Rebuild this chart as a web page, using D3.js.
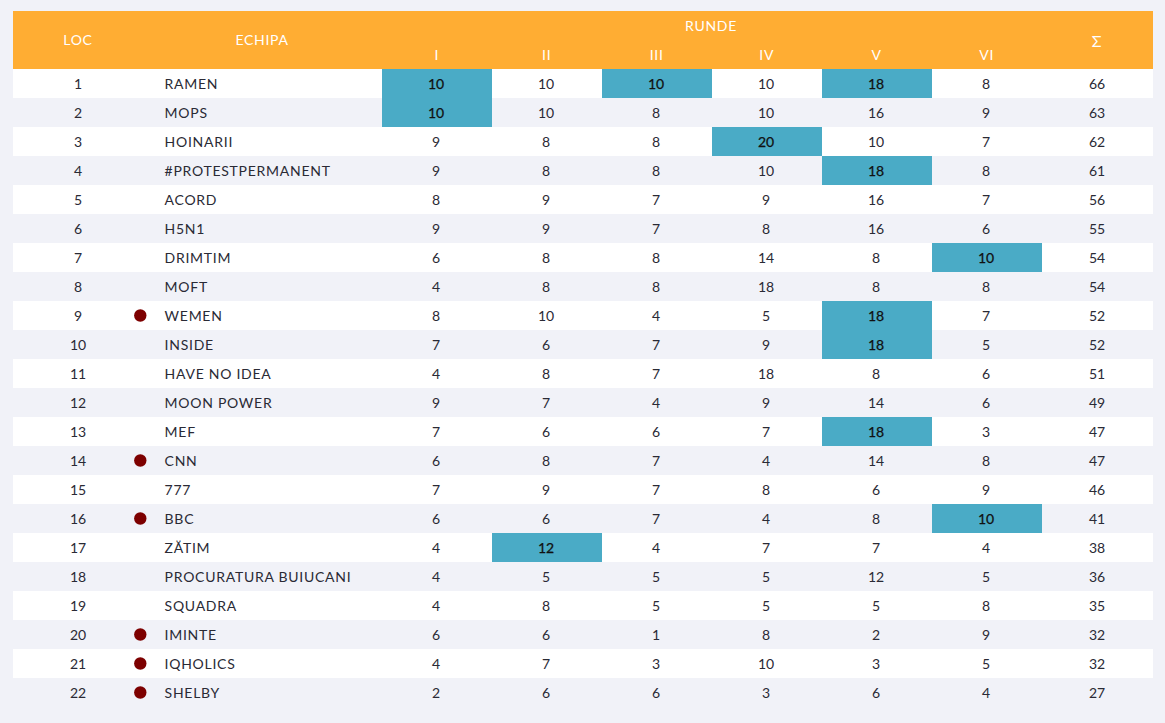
<!DOCTYPE html>
<html lang="ro">
  <head>
    <meta charset="UTF-8" />
    <title>Clasament</title>
    <script src="https://d3js.org/d3.v7.min.js" charset="utf-8"></script>
    <style>
      html, body { margin: 0; padding: 0; background: #f1f2f8; overflow: hidden; }
      svg { display: block; }
      text { font-family: Lato, sans-serif; font-size: 14px; fill: #2a2a35; }
      .head text { fill: #fff; letter-spacing: 0.7px; }
      .team { letter-spacing: 0.73px; }
      .top { fill: #111; stroke: #111; stroke-width: 0.25px; }
    </style>
  </head>
  <body>
    <div id="table"></div>
    <script>
      const teams = ["RAMEN", "MOPS", "HOINARII", "#PROTESTPERMANENT", "ACORD", "H5N1", "DRIMTIM", "MOFT", "WEMEN", "INSIDE", "HAVE NO IDEA", "MOON POWER", "MEF", "CNN", "777", "BBC", "ZĂTIM", "PROCURATURA BUIUCANI", "SQUADRA", "IMINTE", "IQHOLICS", "SHELBY"];
      const rounds = ["I", "II", "III", "IV", "V", "VI"];
      const roundI = [10, 10, 9, 9, 8, 9, 6, 4, 8, 7, 4, 9, 7, 6, 7, 6, 4, 4, 4, 6, 4, 2];
      const roundII = [10, 10, 8, 8, 9, 9, 8, 8, 10, 6, 8, 7, 6, 8, 9, 6, 12, 5, 8, 6, 7, 6];
      const roundIII = [10, 8, 8, 8, 7, 7, 8, 8, 4, 7, 7, 4, 6, 7, 7, 7, 4, 5, 5, 1, 3, 6];
      const roundIV = [10, 10, 20, 10, 9, 8, 14, 18, 5, 9, 18, 9, 7, 4, 8, 4, 7, 5, 5, 8, 10, 3];
      const roundV = [18, 16, 10, 18, 16, 16, 8, 8, 18, 18, 8, 14, 18, 14, 6, 8, 7, 12, 5, 2, 3, 6];
      const roundVI = [8, 9, 7, 8, 7, 6, 10, 8, 7, 5, 6, 6, 3, 8, 9, 10, 4, 5, 8, 9, 5, 4];
      const totals = [66, 63, 62, 61, 56, 55, 54, 54, 52, 52, 51, 49, 47, 47, 46, 41, 38, 36, 35, 32, 32, 27];
      const marked = ["WEMEN", "CNN", "BBC", "IMINTE", "IQHOLICS", "SHELBY"];

      const scores = [roundI, roundII, roundIII, roundIV, roundV, roundVI];

      const width = 1165;
      const height = 723;
      const left = 13;
      const right = 1153;
      const headTop = 11;
      const headBottom = 69;
      const rowH = 29;

      const y = d3
        .scaleBand()
        .domain(d3.range(teams.length))
        .range([headBottom, headBottom + rowH * teams.length]);

      const x = d3
        .scaleBand()
        .domain(rounds)
        .range([382, 1042]);

      const locX = 78;
      const nameX = 164.6;
      const dotX = 140.3;
      const sumX = 1097;

      const svg = d3
        .select("#table")
        .append("svg")
        .attr("width", width)
        .attr("height", height);

      // header
      const head = svg.append("g").attr("class", "head");
      head
        .append("rect")
        .attr("x", left)
        .attr("y", headTop)
        .attr("width", right - left)
        .attr("height", headBottom - headTop)
        .style("fill", "#ffad33");

      const headText = (label, tx, ty) =>
        head
          .append("text")
          .attr("x", tx)
          .attr("y", ty)
          .attr("text-anchor", "middle")
          .text(label);

      headText("LOC", locX, 45);
      headText("ECHIPA", 262, 45);
      headText("RUNDE", 711, 31);
      headText("Σ", sumX, 47).style("font-size", "16px");
      rounds.forEach(r => headText(r, x(r) + x.bandwidth() / 2 - 0.3, 60));

      // rows
      const rows = svg
        .selectAll("g.row")
        .data(teams)
        .enter()
        .append("g")
        .attr("class", "row")
        .attr("transform", (d, i) => "translate(0," + y(i) + ")");

      rows
        .append("rect")
        .attr("x", left)
        .attr("width", right - left)
        .attr("height", y.bandwidth())
        .style("fill", (d, i) => (i % 2 ? "#f1f2f8" : "#fff"));

      const baseY = y.bandwidth() / 2 + 5;

      rows
        .append("text")
        .attr("x", locX)
        .attr("y", baseY)
        .attr("text-anchor", "middle")
        .text((d, i) => i + 1);

      rows
        .filter(d => marked.includes(d))
        .append("circle")
        .attr("cx", dotX)
        .attr("cy", y.bandwidth() / 2)
        .attr("r", 6.2)
        .style("fill", "#7d0000");

      rows
        .append("text")
        .attr("class", "team")
        .attr("x", nameX)
        .attr("y", baseY)
        .text(d => d);

      // the best score of each round gets the blue cell
      rounds.forEach((r, c) => {
        const best = d3.max(scores[c]);

        rows
          .filter((d, i) => scores[c][i] === best)
          .append("rect")
          .attr("x", x(r))
          .attr("width", x.bandwidth())
          .attr("height", y.bandwidth())
          .style("fill", "#4aabc6");

        rows
          .append("text")
          .attr("class", (d, i) => (scores[c][i] === best ? "top" : null))
          .attr("x", x(r) + x.bandwidth() / 2 - 1)
          .attr("y", baseY)
          .attr("text-anchor", "middle")
          .text((d, i) => scores[c][i]);
      });

      rows
        .append("text")
        .attr("x", sumX)
        .attr("y", baseY)
        .attr("text-anchor", "middle")
        .text((d, i) => totals[i]);
    </script>
  </body>
</html>
